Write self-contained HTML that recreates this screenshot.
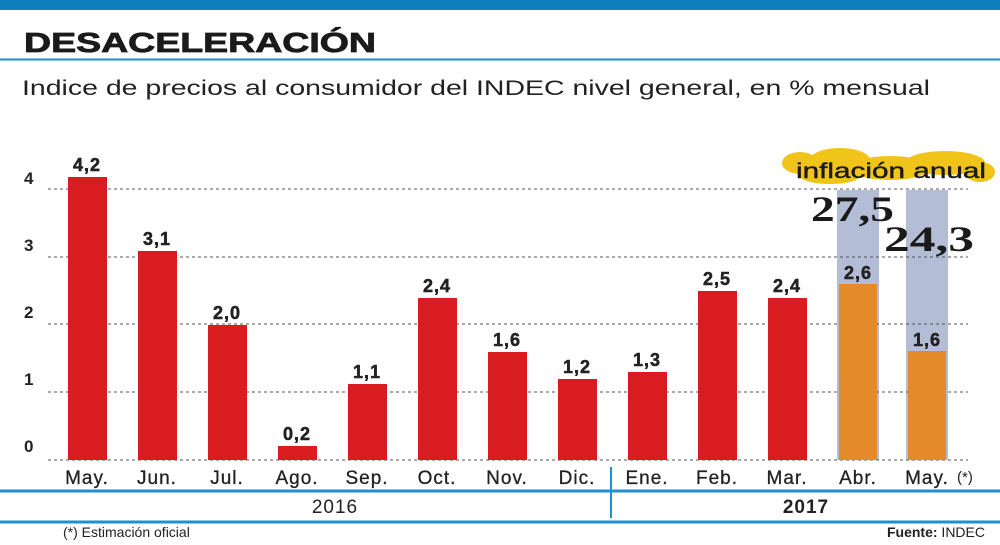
<!DOCTYPE html>
<html><head><style>
body{margin:0;width:1000px;height:540px;background:#fff;overflow:hidden;font-family:"Liberation Sans",sans-serif}
</style></head><body>
<svg width="1000" height="540" xmlns="http://www.w3.org/2000/svg" font-family="Liberation Sans, sans-serif">
<rect x="0" y="0" width="1000" height="10" fill="#0f7fc0"/>
<text x="24" y="52" font-size="28" font-weight="bold" fill="#1a1a1a" textLength="352" lengthAdjust="spacingAndGlyphs" stroke="#1a1a1a" stroke-width="0.8">DESACELERACIÓN</text>
<line x1="0" y1="59.5" x2="1000" y2="59.5" stroke="#1f8fd0" stroke-width="2"/>
<text x="22" y="95" font-size="21" fill="#222" textLength="908" lengthAdjust="spacingAndGlyphs">Indice de precios al consumidor del INDEC nivel general, en % mensual</text>
<g fill="#222" font-size="17" font-weight="bold">
<text x="24" y="184">4</text><text x="24" y="251">3</text><text x="24" y="318">2</text><text x="24" y="385">1</text><text x="24" y="452">0</text>
</g>
<rect x="837" y="190" width="42" height="270" fill="#b4bdd6"/>
<rect x="906" y="190" width="42" height="270" fill="#b4bdd6"/>
<g stroke="#555" stroke-width="1" stroke-dasharray="3,3">
<line x1="48" y1="189" x2="968" y2="189"/><line x1="48" y1="257" x2="968" y2="257"/><line x1="48" y1="324" x2="968" y2="324"/><line x1="48" y1="392" x2="968" y2="392"/><line x1="48" y1="460" x2="968" y2="460"/>
</g>
<g fill="#d91c20">
<rect x="68" y="177" width="39" height="283"/>
<rect x="138" y="251" width="39" height="209"/>
<rect x="208" y="325" width="39" height="135"/>
<rect x="278" y="446" width="39" height="14"/>
<rect x="348" y="384" width="39" height="76"/>
<rect x="418" y="298" width="39" height="162"/>
<rect x="488" y="352" width="39" height="108"/>
<rect x="558" y="379" width="39" height="81"/>
<rect x="628" y="372" width="39" height="88"/>
<rect x="698" y="291" width="39" height="169"/>
<rect x="768" y="298" width="39" height="162"/>
</g>
<g fill="#e58a2a">
<rect x="839" y="284" width="38" height="176"/>
<rect x="908" y="351" width="38" height="109"/>
</g>
<g font-size="18" font-weight="bold" fill="#222" text-anchor="middle" letter-spacing="1" stroke="#222" stroke-width="0.5">
<text x="87" y="171">4,2</text><text x="157" y="245">3,1</text><text x="227" y="319">2,0</text><text x="297" y="440">0,2</text><text x="367" y="378">1,1</text><text x="437" y="292">2,4</text><text x="507" y="346">1,6</text><text x="577" y="373">1,2</text><text x="647" y="366">1,3</text><text x="717" y="285">2,5</text><text x="787" y="292">2,4</text><text x="858" y="279">2,6</text><text x="927" y="346">1,6</text>
</g>
<g font-size="19" fill="#222" text-anchor="middle" letter-spacing="1" stroke="#222" stroke-width="0.3">
<text x="87" y="484">May.</text><text x="157" y="484">Jun.</text><text x="227" y="484">Jul.</text><text x="297" y="484">Ago.</text><text x="367" y="484">Sep.</text><text x="437" y="484">Oct.</text><text x="507" y="484">Nov.</text><text x="577" y="484">Dic.</text><text x="647" y="484">Ene.</text><text x="717" y="484">Feb.</text><text x="787" y="484">Mar.</text><text x="858" y="484">Abr.</text><text x="927" y="484">May.</text>
</g>
<text x="957" y="482" font-size="15" fill="#222">(*)</text>
<g fill="#f0c419">
<ellipse cx="800" cy="163" rx="18" ry="11"/><ellipse cx="840" cy="160" rx="30" ry="12"/><ellipse cx="890" cy="168" rx="40" ry="12"/><ellipse cx="945" cy="163" rx="40" ry="12"/><ellipse cx="980" cy="172" rx="15" ry="10"/><ellipse cx="830" cy="176" rx="30" ry="8"/>
</g>
<text x="796" y="178" font-size="21" fill="#1a1a1a" textLength="190" lengthAdjust="spacingAndGlyphs" stroke="#1a1a1a" stroke-width="0.4">inflación anual</text>
<g font-family="Liberation Serif, serif" font-weight="bold" font-size="36" fill="#1a1a1a">
<text x="811" y="221" textLength="83" lengthAdjust="spacingAndGlyphs">27,5</text><text x="884" y="251" textLength="90" lengthAdjust="spacingAndGlyphs">24,3</text>
</g>
<line x1="0" y1="491" x2="1000" y2="491" stroke="#1f8fd0" stroke-width="3"/>
<line x1="0" y1="522" x2="1000" y2="522" stroke="#1f8fd0" stroke-width="3"/>
<line x1="611" y1="467" x2="611" y2="518" stroke="#1f8fd0" stroke-width="2"/>
<text x="335" y="513" font-size="19" fill="#222" text-anchor="middle" letter-spacing="1">2016</text>
<text x="806" y="513" font-size="19" font-weight="bold" fill="#222" text-anchor="middle" letter-spacing="1">2017</text>
<text x="63" y="537" font-size="14" fill="#222">(*) Estimación oficial</text>
<text x="985" y="537" font-size="14" fill="#222" text-anchor="end"><tspan font-weight="bold">Fuente:</tspan> INDEC</text>
</svg>
</body></html>
